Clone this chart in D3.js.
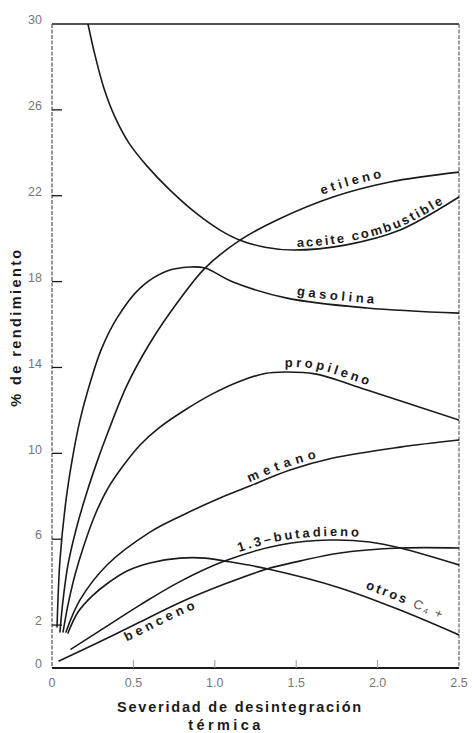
<!DOCTYPE html>
<html>
<head>
<meta charset="utf-8">
<script src="https://cdn.jsdelivr.net/npm/d3@7"></script>
<style>
  body { margin: 0; background: #fff; }
  svg { display: block; }
</style>
</head>
<body>
<svg id="chart" width="472" height="733"></svg>
<script>
// Yields (% weight) versus thermal cracking severity, one array of [severity, yield] per product.
const aceite = [[0.221, 30], [0.264, 28.55], [0.319, 27.01], [0.387, 25.66], [0.473, 24.45], [0.584, 23.38],
  [0.725, 22.26], [0.891, 21.15], [1.032, 20.4], [1.155, 19.93], [1.308, 19.6], [1.48, 19.47],
  [1.80, 19.7], [2.138, 20.4], [2.5, 21.94]];
const etileno = [[0.049, 1.68], [0.068, 3.17], [0.098, 4.8], [0.147, 6.43], [0.209, 8.06], [0.276, 9.59],
  [0.344, 10.99], [0.461, 13.18], [0.602, 15.14], [0.768, 17.0], [0.94, 18.63], [1.155, 19.93],
  [1.382, 20.87], [1.726, 21.94], [2.076, 22.64], [2.5, 23.1]];
const gasolina = [[0.031, 1.91], [0.049, 5.03], [0.086, 7.82], [0.129, 9.92], [0.172, 11.55], [0.221, 12.95],
  [0.301, 14.81], [0.399, 16.3], [0.541, 17.7], [0.706, 18.49], [0.848, 18.68], [0.94, 18.63],
  [1.112, 17.98], [1.443, 17.23], [1.935, 16.77], [2.5, 16.53]];
const propileno = [[0.068, 1.68], [0.098, 2.93], [0.141, 4.33], [0.197, 5.73], [0.264, 7.13], [0.344, 8.38],
  [0.436, 9.41], [0.541, 10.39], [0.663, 11.22], [0.817, 12.02], [0.983, 12.76], [1.155, 13.36],
  [1.308, 13.72], [1.43, 13.79], [1.615, 13.7], [1.935, 12.95], [2.5, 11.55]];
const metano = [[0.086, 1.68], [0.172, 3.17], [0.338, 4.8], [0.602, 6.33], [0.805, 7.13], [1.032, 7.92],
  [1.216, 8.48], [1.462, 9.22], [1.726, 9.78], [2.138, 10.29], [2.5, 10.62]];
const butadieno = [[0.117, 0.88], [0.29, 1.72], [0.54, 2.93], [0.78, 4.0], [1.06, 4.98], [1.40, 5.73],
  [1.71, 5.96], [1.95, 5.87], [2.14, 5.59], [2.5, 4.8]];
const otrosC4 = [[0.098, 1.63], [0.16, 2.61], [0.246, 3.35], [0.344, 3.96], [0.461, 4.52], [0.602, 4.89],
  [0.786, 5.12], [0.94, 5.12], [1.063, 4.98], [1.327, 4.61], [1.769, 3.73], [2.138, 2.7], [2.5, 1.54]];
const benceno = [[0.043, 0.33], [0.29, 1.21], [0.54, 2.14], [0.78, 3.03], [1.06, 3.91], [1.32, 4.61],
  [1.52, 4.98], [1.77, 5.36], [2.14, 5.59], [2.5, 5.59]];

const xTicks = [0, 0.5, 1.0, 1.5, 2.0, 2.5];
const xTickLabels = ["0", "0.5", "1.0", "1.5", "2.0", "2.5"];
const yTicks = [0, 2, 6, 10, 14, 18, 22, 26, 30];
const yTickLabels = ["0", "2", "6", "10", "14", "18", "22", "26", "30"];

const seriesList = [aceite, etileno, gasolina, propileno, metano, butadieno, otrosC4, benceno];

// Curve labels: which series, where along it (severity), vertical shift and letter spacing
const curveLabels = [
  { data: etileno,   text: "etileno",            at: 1.85, shift: -6,  spacing: 3.4 },
  { data: aceite,    text: "aceite combustible", at: 1.98, shift: -3,  spacing: 2.2 },
  { data: gasolina,  text: "gasolina",           at: 1.75, shift: -5,  spacing: 3.6 },
  { data: propileno, text: "propileno",          at: 1.70, shift: -5,  spacing: 3.3 },
  { data: metano,    text: "metano",             at: 1.43, shift: -4,  spacing: 5.0 },
  { data: butadieno, text: "1.3–butadieno",      at: 1.52, shift: -4,  spacing: 2.8 },
  { data: otrosC4,   text: "otros",              at: 2.16, shift: -8,  spacing: 2.4, tail: "C₄ +" },
  { data: benceno,   text: "benceno",            at: 0.68, shift: 13,  spacing: 3.8 }
];

const svg = d3.select("#chart");
const x = d3.scaleLinear().domain([0, 2.5]).range([52, 459]);
const y = d3.scaleLinear().domain([0, 30]).range([668, 24]);

const ink = "#1a1a1a";
const labelFont = "'Liberation Sans', Arial, sans-serif";

// Frame: solid top and bottom, broken-looking sides
svg.append("line").attr("x1", x(0)).attr("x2", x(2.5)).attr("y1", y(30)).attr("y2", y(30))
  .attr("stroke", ink).attr("stroke-width", 1.4);
svg.append("line").attr("x1", x(0)).attr("x2", x(2.5)).attr("y1", y(0)).attr("y2", y(0))
  .attr("stroke", ink).attr("stroke-width", 1.8);
svg.append("line").attr("x1", x(0)).attr("x2", x(0)).attr("y1", y(30)).attr("y2", y(0))
  .attr("stroke", "#444").attr("stroke-width", 1.1).attr("stroke-dasharray", "4,1.5");
svg.append("line").attr("x1", x(2.5)).attr("x2", x(2.5)).attr("y1", y(30)).attr("y2", y(0))
  .attr("stroke", "#555").attr("stroke-width", 1.1).attr("stroke-dasharray", "4,1.5");

// Y ticks (inward) and labels
const yAxisG = svg.append("g");
yAxisG.selectAll("line").data(yTicks.filter(v => v > 0 && v < 30)).join("line")
  .attr("x1", x(0)).attr("x2", x(0) + 10)
  .attr("y1", d => y(d)).attr("y2", d => y(d))
  .attr("stroke", ink).attr("stroke-width", 1.3);
yAxisG.selectAll("text").data(yTicks).join("text")
  .attr("x", 42).attr("y", d => y(d) - 3)
  .attr("text-anchor", "end").attr("dominant-baseline", "middle")
  .attr("font-family", labelFont).attr("font-size", 12.5).attr("fill", "#777")
  .text((d, i) => yTickLabels[i]);

// X ticks (inward) and labels
const xAxisG = svg.append("g");
xAxisG.selectAll("line").data(xTicks.filter(v => v > 0 && v < 2.5)).join("line")
  .attr("x1", d => x(d)).attr("x2", d => x(d))
  .attr("y1", y(0)).attr("y2", y(0) - 8)
  .attr("stroke", "#999").attr("stroke-width", 1);
xAxisG.selectAll("text").data(xTicks).join("text")
  .attr("x", d => x(d)).attr("y", 684)
  .attr("text-anchor", "middle").attr("dominant-baseline", "middle")
  .attr("font-family", labelFont).attr("font-size", 12.5).attr("fill", "#777")
  .text((d, i) => xTickLabels[i]);

// Axis titles
svg.append("text").attr("x", 240).attr("y", 712)
  .attr("text-anchor", "middle").attr("font-family", labelFont).attr("font-weight", "bold")
  .attr("font-size", 14.5).attr("letter-spacing", 1.8).attr("fill", ink)
  .text("Severidad de desintegración");
svg.append("text").attr("x", 226).attr("y", 730)
  .attr("text-anchor", "middle").attr("font-family", labelFont).attr("font-weight", "bold")
  .attr("font-size", 14.5).attr("letter-spacing", 3.4).attr("fill", ink)
  .text("térmica");
svg.append("text")
  .attr("transform", "translate(21,327) rotate(-90)")
  .attr("text-anchor", "middle").attr("font-family", labelFont).attr("font-weight", "bold")
  .attr("font-size", 14.5).attr("letter-spacing", 2.4).attr("fill", ink)
  .text("% de rendimiento");

// Curves
const smooth = d3.curveCatmullRom.alpha(0.5);
const line = d3.line().x(d => x(d[0])).y(d => y(d[1])).curve(smooth);
svg.append("defs").append("clipPath").attr("id", "plotClip")
  .append("rect").attr("x", x(0)).attr("y", y(30)).attr("width", x(2.5) - x(0)).attr("height", y(0) - y(30));
svg.append("g").attr("clip-path", "url(#plotClip)")
  .selectAll("path").data(seriesList).join("path")
  .attr("d", line)
  .attr("fill", "none").attr("stroke", ink).attr("stroke-width", 1.6)
  .attr("stroke-linejoin", "round").attr("stroke-linecap", "round");

// Labels set along guide paths that follow each curve
const guides = svg.append("g").attr("fill", "none").attr("stroke", "none");
const labelsG = svg.append("g");
curveLabels.forEach((lab, i) => {
  const guideLine = d3.line().x(d => x(d[0])).y(d => y(d[1]) + lab.shift).curve(smooth);
  const guide = guides.append("path").attr("id", "guide" + i).attr("d", guideLine(lab.data));
  const node = guide.node();
  const target = x(lab.at);
  let lo = 0, hi = node.getTotalLength();
  for (let k = 0; k < 40; k++) {
    const mid = (lo + hi) / 2;
    if (node.getPointAtLength(mid).x < target) lo = mid; else hi = mid;
  }
  const t = labelsG.append("text")
    .attr("text-anchor", "middle")
    .attr("font-family", labelFont).attr("font-weight", "bold")
    .attr("font-size", 13).attr("letter-spacing", lab.spacing).attr("fill", ink);
  const tp = t.append("textPath").attr("href", "#guide" + i).attr("startOffset", lo);
  if (lab.tail) {
    tp.append("tspan").text(lab.text + " ");
    tp.append("tspan").attr("font-weight", "normal").attr("fill", "#555").attr("letter-spacing", 1.5)
      .text(lab.tail);
  } else {
    tp.text(lab.text);
  }
});
</script>
</body>
</html>
